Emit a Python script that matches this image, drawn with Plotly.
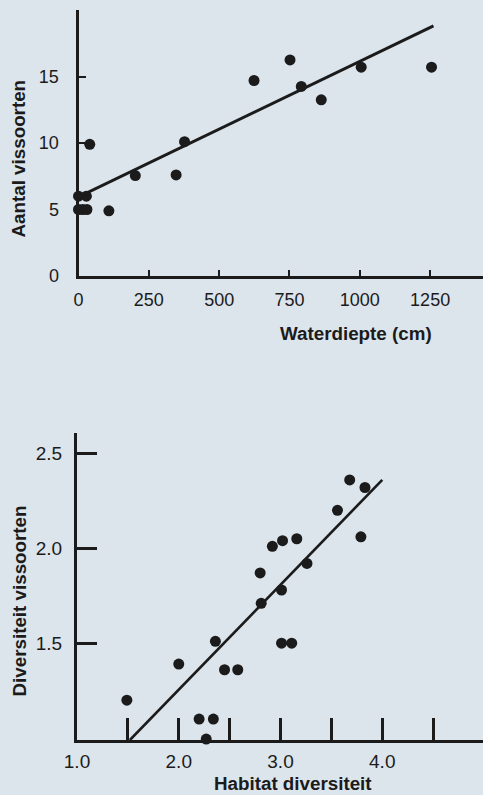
import plotly.graph_objects as go

# --- Top panel: number of fish species vs water depth ---
depth_cm = [0, 28, 0, 15, 30, 40, 108, 202, 347, 377, 624, 752, 792, 863, 1005, 1255]
n_species = [6.0, 6.0, 5.0, 5.0, 5.0, 9.9, 4.9, 7.55, 7.6, 10.1, 14.7, 16.25, 14.25, 13.25, 15.7, 15.7]
depth_fit_x = [0, 1262]
depth_fit_y = [5.95, 18.8]
depth_ticks = [0, 250, 500, 750, 1000, 1250]
species_ticks = [0, 5, 10, 15]

# --- Bottom panel: fish species diversity vs habitat diversity ---
habitat_div = [1.49, 2.0, 2.2, 2.34, 2.27, 2.36, 2.45, 2.58, 2.80, 2.81, 2.92, 3.02,
               3.01, 3.01, 3.11, 3.16, 3.26, 3.56, 3.68, 3.83, 3.79]
fish_div = [1.20, 1.39, 1.10, 1.10, 0.995, 1.51, 1.36, 1.36, 1.87, 1.71, 2.01, 2.04,
            1.78, 1.50, 1.50, 2.05, 1.92, 2.20, 2.36, 2.32, 2.06]
habitat_fit_x = [1.52, 4.0]
habitat_fit_y = [0.99, 2.36]
habitat_ticks = [1.0, 1.5, 2.0, 2.5, 3.0, 3.5, 4.0, 4.5]
habitat_labels = ["1.0", "", "2.0", "", "3.0", "", "4.0", ""]
diversity_ticks = [1.5, 2.0, 2.5]
diversity_labels = ["1.5", "2.0", "2.5"]

W, H = 483, 795
INK = "#1b1b1b"
BG = "#dce5ec"
FONT = "Liberation Sans, Arial, sans-serif"


def px_x(p):
    return p / W


def px_y(p):
    return 1 - p / H


fig = go.Figure()

fig.add_trace(go.Scatter(x=depth_fit_x, y=depth_fit_y, mode="lines",
                         line=dict(color=INK, width=3), xaxis="x", yaxis="y",
                         cliponaxis=False, hoverinfo="skip"))
fig.add_trace(go.Scatter(x=depth_cm, y=n_species, mode="markers",
                         marker=dict(color=INK, size=11), xaxis="x", yaxis="y",
                         cliponaxis=False))
fig.add_trace(go.Scatter(x=habitat_fit_x, y=habitat_fit_y, mode="lines",
                         line=dict(color=INK, width=2.6), xaxis="x2", yaxis="y2",
                         cliponaxis=False, hoverinfo="skip"))
fig.add_trace(go.Scatter(x=habitat_div, y=fish_div, mode="markers",
                         marker=dict(color=INK, size=11), xaxis="x2", yaxis="y2",
                         cliponaxis=False))

axis_common = dict(showgrid=False, zeroline=False, showline=True, linecolor=INK,
                   ticks="inside", tickcolor=INK, fixedrange=True, automargin=False)
top_tickfont = dict(family=FONT, size=18, color=INK)
bottom_tickfont = dict(family=FONT, size=19, color=INK)

fig.update_layout(
    template="none",
    width=W, height=H,
    margin=dict(l=0, r=0, t=0, b=0, pad=0),
    paper_bgcolor=BG, plot_bgcolor=BG,
    showlegend=False,
    xaxis=dict(axis_common, domain=[px_x(78.5), 1.0], range=[0, 1438],
               anchor="y", linewidth=3, tickvals=depth_ticks, ticklen=6,
               tickwidth=1.5, ticklabelstandoff=5, tickfont=top_tickfont),
    yaxis=dict(axis_common, domain=[px_y(276), px_y(10)], range=[0, 20.0],
               anchor="x", linewidth=3, tickvals=species_ticks, ticklen=7,
               tickwidth=1.5, ticklabelstandoff=13, tickfont=top_tickfont),
    xaxis2=dict(axis_common, domain=[px_x(77), 1.0], range=[1.0, 4.99],
                anchor="y2", linewidth=3, tickvals=habitat_ticks,
                ticktext=habitat_labels, ticklen=22, tickwidth=2.5,
                ticklabelstandoff=2, tickfont=bottom_tickfont),
    yaxis2=dict(axis_common, domain=[px_y(740), px_y(433)], range=[0.99, 2.607],
                anchor="x2", linewidth=3, tickvals=diversity_ticks,
                ticktext=diversity_labels, ticklen=20, tickwidth=2.5,
                ticklabelstandoff=8, tickfont=bottom_tickfont),
)

title_font = dict(family=FONT, size=18.8, color=INK, weight="bold")
titles = [
    ("Aantal vissoorten", 18.5, 159, -90, "middle"),
    ("Waterdiepte (cm)", 355.5, 333, 0, "middle"),
    ("Diversiteit vissoorten", 18.5, 601, -90, "middle"),
    ("Habitat diversiteit", 293, 795, 0, "bottom"),
]
for text, cx, cy, ang, ya in titles:
    fig.add_annotation(text=text, x=px_x(cx), y=px_y(cy), xref="paper", yref="paper",
                       xanchor="center", yanchor=ya, showarrow=False, borderpad=0,
                       textangle=ang, font=title_font)

fig.write_html("out.html")
